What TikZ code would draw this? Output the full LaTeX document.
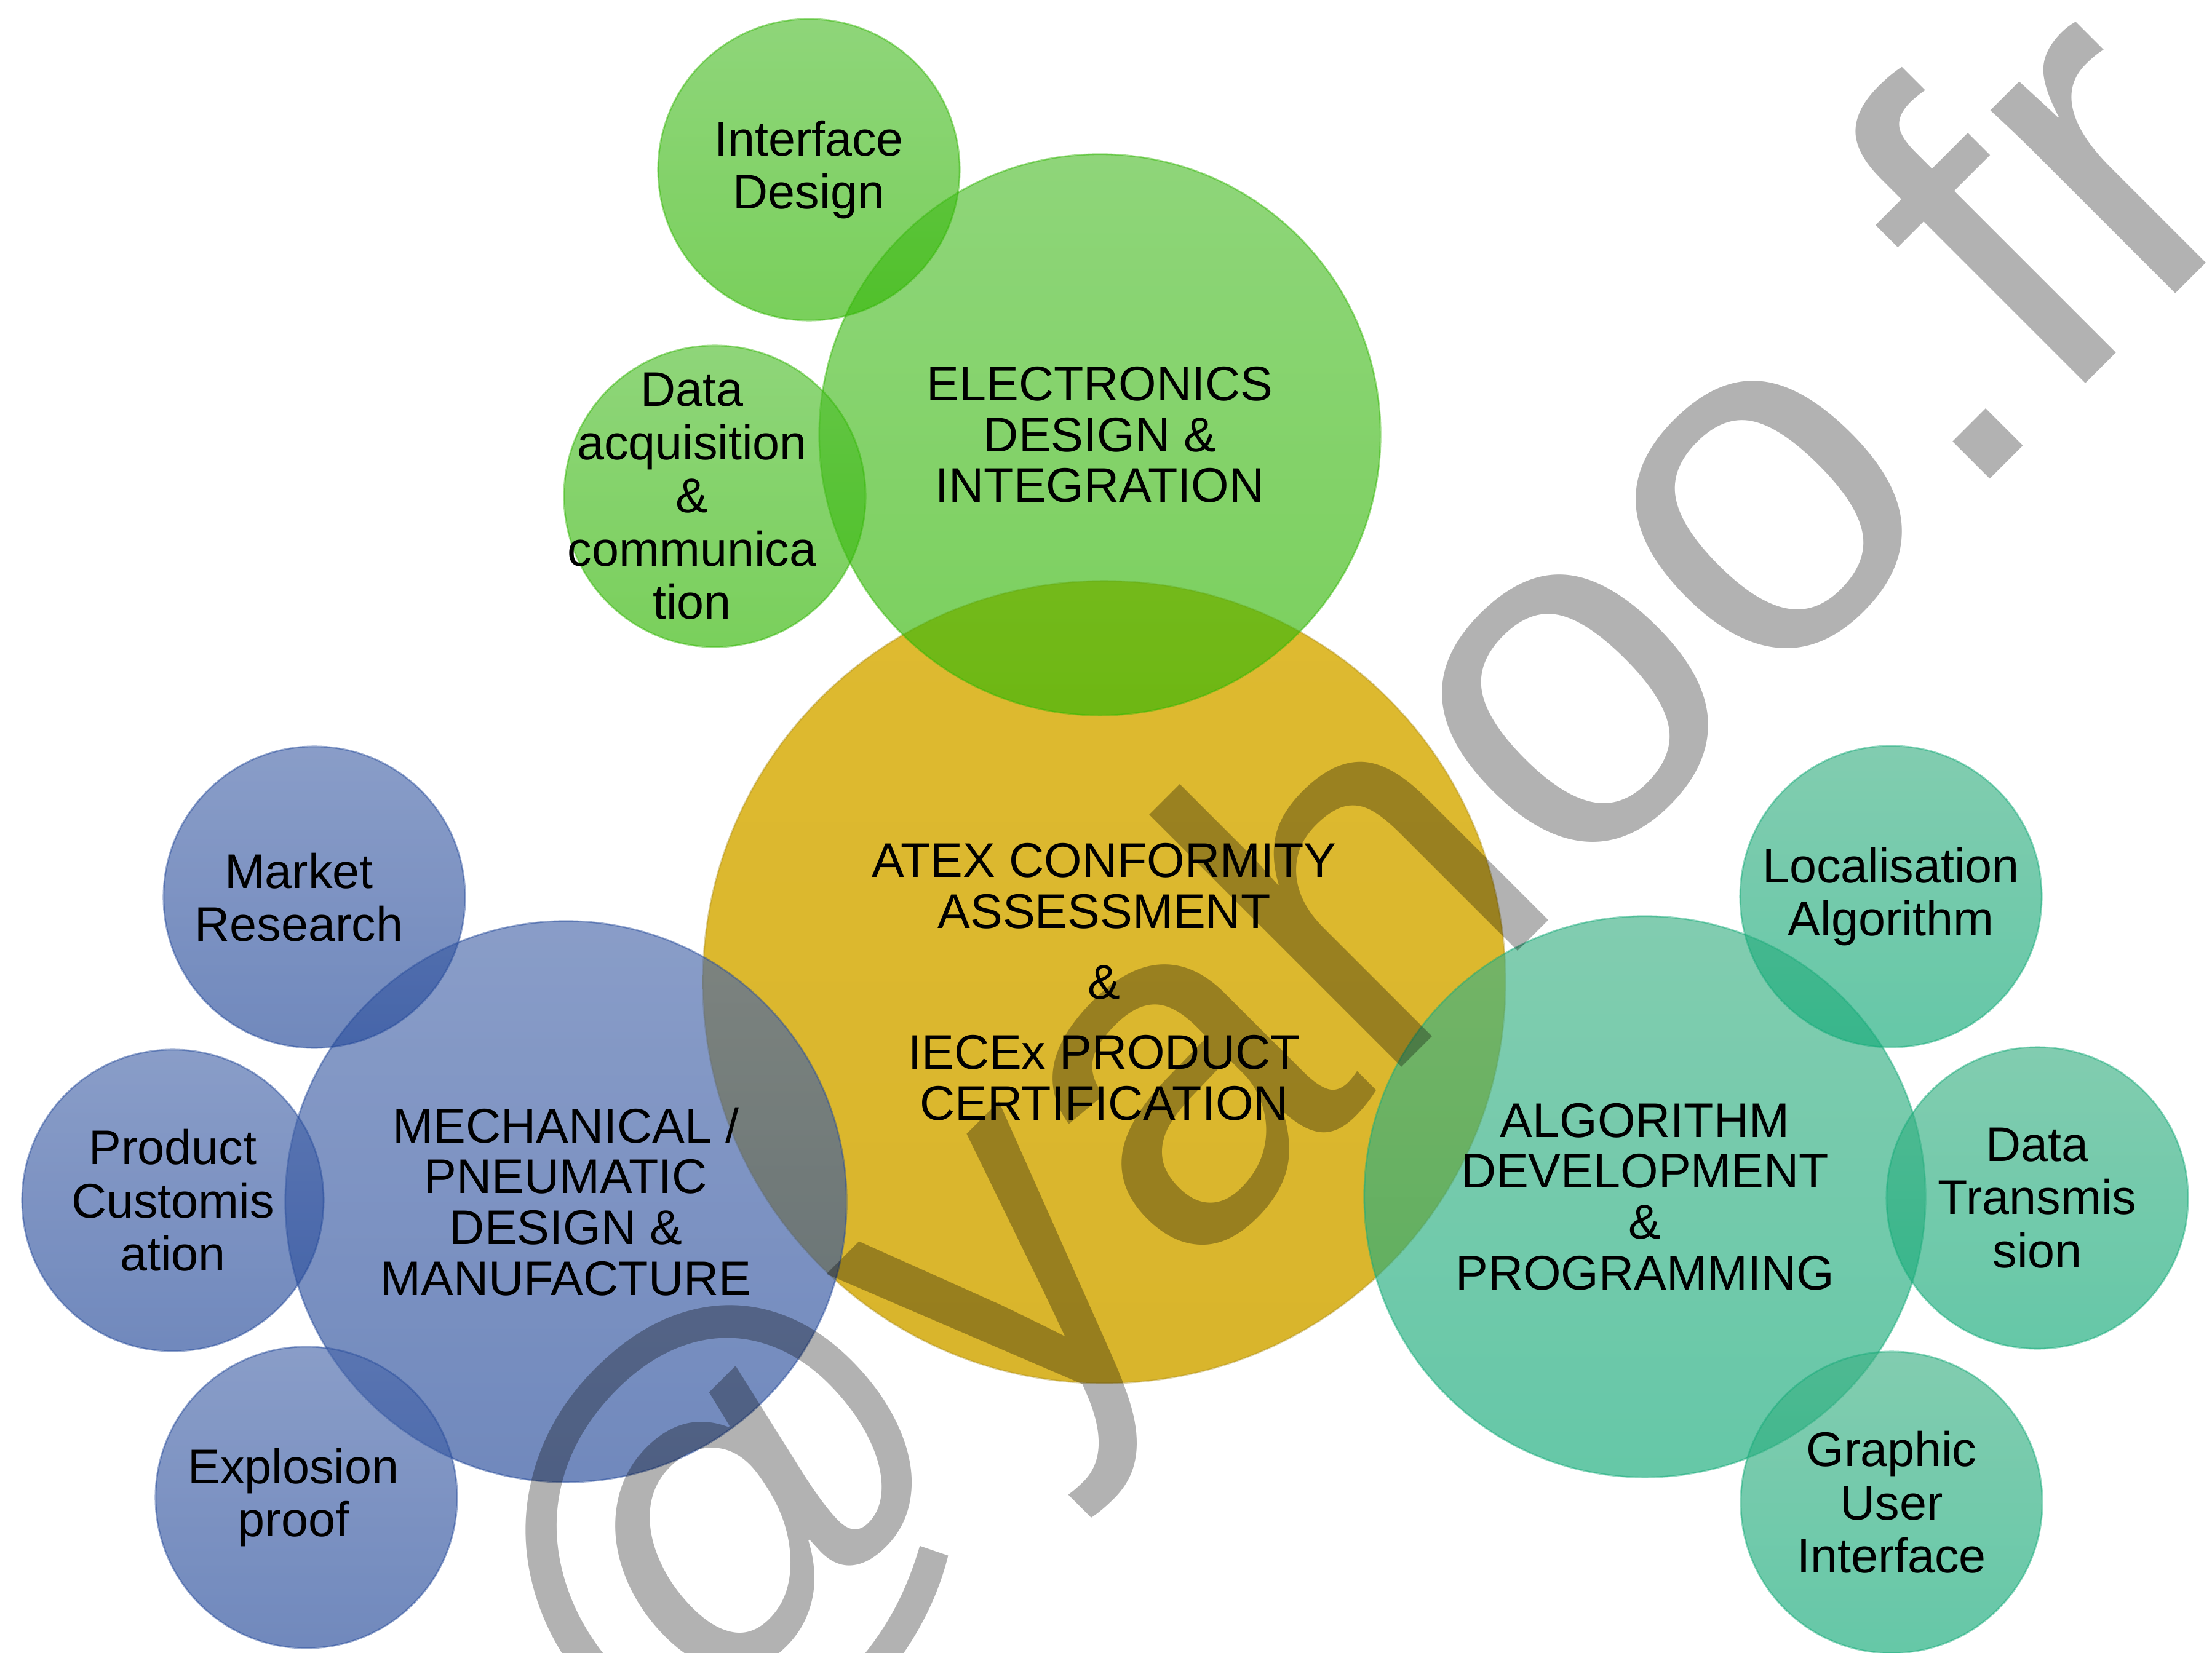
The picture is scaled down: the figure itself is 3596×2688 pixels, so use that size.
\documentclass[tikz,border=0pt]{standalone}
\usepackage{fontspec}
\setmainfont{Liberation Sans}
\definecolor{gtop}{RGB}{83,192,51}
\definecolor{gbot}{RGB}{51,183,5}
\definecolor{btop}{RGB}{75,105,171}
\definecolor{bbot}{RGB}{37,74,154}
\definecolor{ttop}{RGB}{63,178,134}
\definecolor{tbot}{RGB}{20,171,121}
\definecolor{ytop}{RGB}{222,186,48}
\definecolor{ybot}{RGB}{217,181,44}
\begin{document}
\begin{tikzpicture}[x=0.01cm,y=-0.01cm,
  bub/.style={circle, inner sep=0pt, fill opacity=0.65, draw opacity=0.45, line width=0.8pt},
  bigbub/.style={bub, minimum size=9.12cm},
  smallbub/.style={bub, minimum size=4.9cm},
  lblbig/.style={align=center, text=black, text opacity=1, inner sep=0pt, font=\fontsize{22.5pt}{23.5pt}\selectfont},
  lblsmall/.style={align=center, text=black, text opacity=1, inner sep=0pt, font=\fontsize{22.5pt}{24.6pt}\selectfont},
  grn/.style={top color=gtop, bottom color=gbot, draw=gbot},
  blu/.style={top color=btop, bottom color=bbot, draw=bbot},
  tea/.style={top color=ttop, bottom color=tbot, draw=tbot},
  yel/.style={circle, inner sep=0pt, minimum size=13.04cm, top color=ytop, bottom color=ybot, draw=ybot!80!black, draw opacity=0.4, line width=0.8pt},
  wm/.style={inner sep=0pt, text=black, text opacity=0.3, font=\fontsize{227.6pt}{230pt}\selectfont}
]
\useasboundingbox (0,0) rectangle (3596,2688);
\clip (0,0) rectangle (3596,2688);
\fill[white] (0,0) rectangle (3596,2688);

\node[yel, label={[lblbig]center:{ATEX CONFORMITY\\ASSESSMENT\\[0.32cm]\&\\[0.32cm]IECEx PRODUCT\\CERTIFICATION}}] (atex) at (1795,1597) {};

\node[bigbub, grn, label={[lblbig]center:{ELECTRONICS\\DESIGN \&\\INTEGRATION}}] (elec) at (1788,707) {};
\node[bigbub, blu, label={[lblbig]center:{MECHANICAL /\\PNEUMATIC\\DESIGN \&\\MANUFACTURE}}] (mech) at (920,1954) {};
\node[bigbub, tea, label={[lblbig]center:{ALGORITHM\\DEVELOPMENT\\\&\\PROGRAMMING}}] (algo) at (2674,1946) {};

\node[smallbub, grn, label={[lblsmall]center:{Interface\\Design}}] (iface) at (1315,276) {};
\node[smallbub, grn, label={[lblsmall, xshift=-0.37cm]center:{Data\\acquisition\\\&\\communica\\tion}}] (daq) at (1162,807) {};

\node[smallbub, blu, label={[lblsmall, xshift=-0.25cm]center:{Market\\Research}}] (market) at (511,1459) {};
\node[smallbub, blu, label={[lblsmall]center:{Product\\Customis\\ation}}] (custom) at (281,1952) {};
\node[smallbub, blu, label={[lblsmall, xshift=-0.21cm]center:{Explosion\\proof}}] (explo) at (498,2435) {};

\node[smallbub, tea, label={[lblsmall]center:{Localisation\\Algorithm}}] (local) at (3074,1458) {};
\node[smallbub, tea, label={[lblsmall]center:{Data\\Transmis\\sion}}] (trans) at (3312,1948) {};
\node[smallbub, tea, label={[lblsmall]center:{Graphic\\User\\Interface}}] (gui) at (3075,2443) {};

\node[wm, rotate=45, anchor=base west] (mark) at (752,3262) {o@yahoo.fr};
\end{tikzpicture}
\end{document}
